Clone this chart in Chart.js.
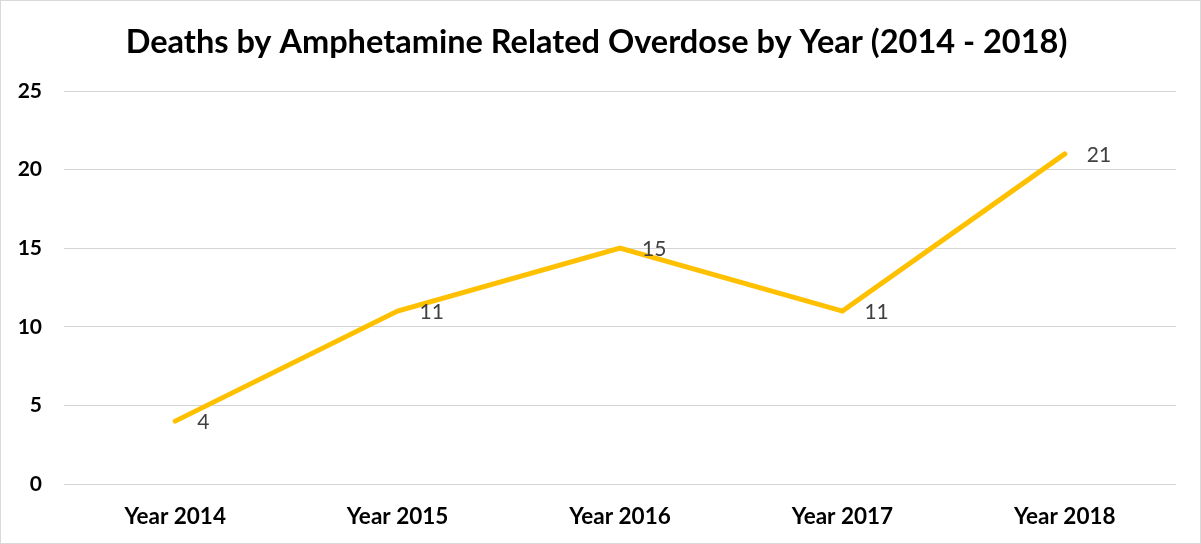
<!DOCTYPE html>
<html>
<head>
<meta charset="utf-8">
<script src="https://cdn.jsdelivr.net/npm/chart.js@4"></script>
<style>
  html, body { margin: 0; padding: 0; background: #fff; }
  #wrap { position: relative; width: 1199px; height: 542px; border: 1px solid #d9d9d9; }
</style>
</head>
<body>
<div id="wrap"><canvas id="chart"></canvas></div>
<script>
  const years = ["Year 2014", "Year 2015", "Year 2016", "Year 2017", "Year 2018"];
  const deaths = [4, 11, 15, 11, 21];
  const yTicks = [0, 5, 10, 15, 20, 25];

  // value labels to the right of each point
  const pointLabels = {
    id: "pointLabels",
    afterDatasetsDraw(chart) {
      const ctx = chart.ctx;
      const meta = chart.getDatasetMeta(0);
      ctx.save();
      ctx.font = "21px Lato, 'Open Sans', sans-serif";
      ctx.fillStyle = "#404040";
      ctx.textBaseline = "middle";
      ctx.textAlign = "left";
      meta.data.forEach(function (pt, i) {
        ctx.fillText(String(deaths[i]), pt.x + 22, pt.y + 1);
      });
      ctx.restore();
    }
  };

  new Chart(document.getElementById("chart"), {
    type: "line",
    data: {
      labels: years,
      datasets: [{
        data: deaths,
        borderColor: "#FFC000",
        borderWidth: 5,
        pointRadius: 0,
        tension: 0,
        borderCapStyle: "round",
        borderJoinStyle: "miter"
      }]
    },
    options: {
      responsive: true,
      maintainAspectRatio: false,
      animation: false,
      layout: { padding: { top: 10, right: 24, bottom: 2, left: 16 } },
      plugins: {
        legend: { display: false },
        tooltip: { enabled: false },
        title: {
          display: true,
          text: "Deaths by Amphetamine Related Overdose by Year (2014 - 2018)",
          color: "#000",
          font: { family: "Lato, 'Open Sans', sans-serif", size: 32.5, weight: "bold" },
          padding: { top: 12, bottom: 29 }
        }
      },
      scales: {
        x: {
          offset: true,
          grid: { display: false },
          border: { display: false },
          ticks: {
            color: "#000",
            padding: 11,
            font: { family: "Lato, 'Open Sans', sans-serif", size: 22.5, weight: "bold" }
          }
        },
        y: {
          min: 0,
          max: 25,
          afterBuildTicks(axis) { axis.ticks = yTicks.map(v => ({ value: v })); },
          afterFit(axis) { axis.width = 47; },
          grid: { color: "#d4d4d4", lineWidth: 1, drawTicks: false },
          border: { display: false },
          ticks: {
            color: "#000",
            padding: 22,
            font: { family: "Lato, 'Open Sans', sans-serif", size: 21, weight: "bold" }
          }
        }
      }
    },
    plugins: [pointLabels]
  });
</script>
</body>
</html>
